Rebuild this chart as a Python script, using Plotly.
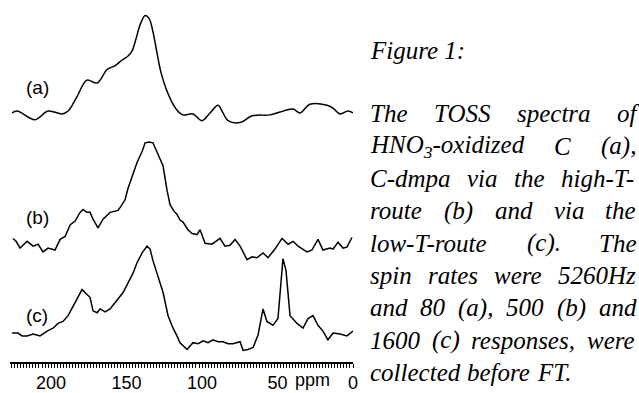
import plotly.graph_objects as go

# ---------------- data ----------------
ppm_a = [225.8, 222.5, 210.6, 202.0, 192.7, 188.7, 182.8, 176.2, 169.5, 162.9, 157.6, 153.6,
         149.0, 146.4, 143.7, 141.1, 137.7, 135.1, 132.5, 129.8, 127.2, 123.8, 120.5, 116.6,
         112.6, 106.0, 100.0, 94.7, 89.4, 86.1, 82.8, 74.8, 66.9, 55.0, 48.3, 39.7, 35.1,
         28.5, 17.2, 13.2, 8.6, 3.3, 0.0]
int_a = [0, 2, -7, 2, -1, 2, 17, 34, 31, 45, 49, 54,
         59, 64, 77, 91, 101, 98, 84, 62, 42, 25, 13, 3,
         -2, -1, -8, 0, 8, 0, -8, -10, -3, -2, 1, 4, 0,
         9, 8, 5, -1, 2, 0]

ppm_b = [225.2, 223.2, 220.5, 215.9, 211.9, 208.6, 205.3, 202.0, 197.4, 194.0, 190.7, 187.4,
         184.1, 180.8, 178.8, 176.2, 174.2, 172.2, 168.9, 165.6, 160.9, 155.6, 153.0, 151.0,
         149.0, 145.7, 143.0, 139.7, 137.7, 135.1, 132.5, 129.1, 125.8, 123.2, 121.2, 118.5,
         116.6, 114.6, 112.6, 109.3, 106.6, 103.3, 101.3, 98.0, 93.4, 88.1, 84.8, 81.5, 78.1,
         74.8, 72.2, 70.2, 66.9, 63.6, 59.6, 56.3, 51.7, 47.0, 43.0, 39.7, 36.4, 30.5, 27.2,
         23.2, 19.9, 15.2, 13.2, 9.9, 6.6, 4.0, 0.7]
int_b = [8, 5, -2, 5, 0, 2, -6, -2, -4, 7, 10, 22,
         26, 35, 38, 35, 35, 28, 19, 28, 35, 37, 43, 48,
         60, 75, 87, 98, 107, 108, 107, 95, 83, 58, 43, 36,
         33, 27, 25, 17, 13, 12, 17, 3, 2, 8, 0, 1, 7,
         0, -8, -14, -11, -12, -7, -12, -3, 8, 2, 5, 0, -6, -4,
         7, -4, -2, -3, 4, -2, -1, 9]

ppm_c = [225.8, 221.9, 219.2, 215.9, 211.9, 207.3, 202.6, 198.7, 195.4, 192.1, 188.7, 185.4,
         182.1, 179.5, 176.2, 174.2, 172.2, 169.5, 167.5, 164.2, 160.9, 157.6, 155.6, 152.3,
         149.0, 145.7, 143.0, 139.7, 136.4, 134.4, 132.5, 129.1, 125.8, 122.5, 119.2, 116.6,
         114.6, 109.9, 106.0, 102.6, 99.3, 96.0, 92.7, 89.4, 86.1, 82.8, 79.5, 74.8, 72.8,
         69.5, 66.2, 62.9, 59.6, 57.0, 53.0, 49.7, 47.7, 46.4, 44.4, 41.7, 37.1, 33.1, 29.8,
         26.5, 23.2, 19.9, 16.6, 13.2, 8.6, 4.0, 0.0]
int_c = [2, 2, -1, -1, 1, -1, 4, 7, 12, 14, 20, 30,
         40, 47, 42, 39, 25, 23, 27, 24, 27, 34, 38, 44,
         54, 64, 75, 85, 92, 89, 77, 60, 44, 20, 7, -1,
         -8, -15, -8, -9, -6, -8, -5, -7, -7, -9, -9, -7, -16,
         -15, -13, 0, 27, 14, 10, 17, 57, 79, 67, 20, 12, 7, 17,
         20, 10, 4, -5, 2, 1, -1, 4]

tick_vals = [200, 150, 100, 50, 0]
tick_text = ["200", "150", "100", "50", "0"]
axis_unit = "ppm"
spectrum_labels = ["(a)", "(b)", "(c)"]

caption_title = "Figure 1:"
caption_lines = [
    "The TOSS spectra of",
    "HNO<sub>3</sub>-oxidized C (a),",
    "C-dmpa via the high-T-",
    "route (b) and via the",
    "low-T-route (c). The",
    "spin rates were 5260Hz",
    "and 80 (a), 500 (b) and",
    "1600 (c) responses, were",
    "collected before FT.",
]

# ---------------- layout helpers ----------------
W, H = 639, 393
ML, MR, MT, MB = 10, 286, 0, 18
PW = W - ML - MR
PH = H - MT - MB
offsets = [258, 120, 28]

def px2paper_x(px):
    return (px - ML) / PW

def py2paper_y(py):
    return (PH + MT - py) / PH

# Times italic advance widths (per 1000 em)
TW = {' ': 250, 'a': 500, 'b': 500, 'c': 444, 'd': 500, 'e': 444, 'f': 278, 'g': 500,
      'h': 500, 'i': 278, 'j': 278, 'k': 444, 'l': 278, 'm': 722, 'n': 500, 'o': 500,
      'p': 500, 'q': 500, 'r': 389, 's': 389, 't': 278, 'u': 500, 'v': 444, 'w': 667,
      'x': 444, 'y': 444, 'z': 389, 'A': 611, 'C': 667, 'F': 611, 'H': 722, 'I': 333,
      'N': 667, 'O': 722, 'S': 500, 'T': 556, '(': 333, ')': 333, ',': 250, '.': 250,
      '-': 333, ':': 333}
for d in "0123456789":
    TW[d] = 500

def text_width(word, size):
    total, i, factor = 0.0, 0, 1.0
    while i < len(word):
        if word.startswith("<sub>", i):
            factor = 0.7; i += 5; continue
        if word.startswith("</sub>", i):
            factor = 1.0; i += 6; continue
        total += TW.get(word[i], 500) * factor
        i += 1
    return total * size / 1000.0

FS = 25
TEXT_L, TEXT_R = 369, 635
SERIF = "Liberation Serif, Times New Roman, serif"
SANS = "Liberation Sans, Arial, sans-serif"

fig = go.Figure()
for xs, ys, off, shape in [(ppm_a, int_a, offsets[0], "spline"),
                           (ppm_b, int_b, offsets[1], "linear"),
                           (ppm_c, int_c, offsets[2], "linear")]:
    fig.add_trace(go.Scatter(x=xs, y=[v + off for v in ys], mode="lines",
                             line=dict(color="black", width=1.5, shape=shape),
                             hoverinfo="skip", showlegend=False))

annotations = []
for lab, py in zip(spectrum_labels, [91, 225, 327]):
    annotations.append(dict(text=lab, xref="paper", yref="paper",
                            x=px2paper_x(37), y=py2paper_y(py), xanchor="center", yanchor="middle",
                            showarrow=False, font=dict(family=SANS, size=19, color="black")))
annotations.append(dict(text=axis_unit, xref="paper", yref="paper", x=px2paper_x(312), y=0,
                        xanchor="center", yanchor="top", yshift=-6, showarrow=False,
                        font=dict(family=SANS, size=18, color="black")))
annotations.append(dict(text="<i>" + caption_title + "</i>", xref="paper", yref="paper",
                        x=px2paper_x(TEXT_L), y=py2paper_y(52), xanchor="left", yanchor="middle",
                        showarrow=False, borderpad=0, font=dict(family=SERIF, size=FS, color="black")))
for i, line in enumerate(caption_lines):
    py = 118 + 33.5 * i
    words = line.split(" ")
    widths = [text_width(w, FS) for w in words]
    justified = i < len(caption_lines) - 1 and len(words) > 1
    gap = (TEXT_R - TEXT_L - sum(widths)) / (len(words) - 1) if justified else 0.25 * FS
    x = TEXT_L
    for w, wd in zip(words, widths):
        annotations.append(dict(text="<i>" + w + "</i>", xref="paper", yref="paper",
                                x=px2paper_x(x), y=py2paper_y(py), xanchor="left", yanchor="middle",
                                showarrow=False, borderpad=0,
                                font=dict(family=SERIF, size=FS, color="black")))
        x += wd + gap

fig.update_layout(
    width=W, height=H, margin=dict(l=ML, r=MR, t=MT, b=MB),
    paper_bgcolor="white", plot_bgcolor="white",
    xaxis=dict(range=[227.2, 0], showgrid=False, zeroline=False,
               showline=True, linecolor="black", linewidth=1.5,
               tickmode="array", tickvals=tick_vals, ticktext=tick_text,
               ticks="outside", ticklen=4, tickwidth=1.2, tickcolor="black",
               tickfont=dict(family=SANS, size=18, color="black"),
               minor=dict(tickmode="linear", tick0=0, dtick=2, ticks="outside",
                          ticklen=4, tickwidth=1, tickcolor="black"),
               fixedrange=True),
    yaxis=dict(range=[0, PH], visible=False, fixedrange=True),
    annotations=annotations,
)

fig.write_html("out.html", config={"displayModeBar": False},
               post_script="document.body.style.margin='0';document.body.style.padding='0';")
